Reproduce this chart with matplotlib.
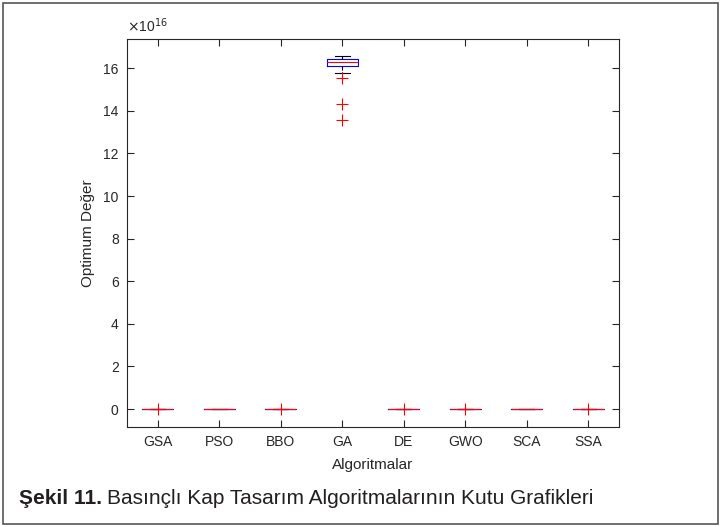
import matplotlib
matplotlib.use("Agg")
import matplotlib.pyplot as plt
from matplotlib import font_manager
from matplotlib.ticker import FuncFormatter, MultipleLocator
from matplotlib.patches import Rectangle

names = {f.name for f in font_manager.fontManager.ttflist}
base_font = "Liberation Sans" if "Liberation Sans" in names else "DejaVu Sans"
cap_font = "Liberation Sans Narrow" if "Liberation Sans Narrow" in names else base_font

algorithms = ["GSA", "PSO", "BBO", "GA", "DE", "GWO", "SCA", "SSA"]
# box statistics (values in units of the objective, ~1e16 for GA)
whislo = [6059.7, 6059.7, 6060.5, 1.577e17, 6059.7, 6060.1, 6200.0, 6059.7]
q1     = [6060.0, 6061.0, 6090.0, 1.612e17, 6059.7, 6062.0, 6400.0, 6060.0]
med    = [6070.0, 6090.0, 6200.0, 1.629e17, 6059.7, 6070.0, 6600.0, 6080.0]
q3     = [6200.0, 6300.0, 6400.0, 1.643e17, 6060.0, 6100.0, 6900.0, 6300.0]
whishi = [6400.0, 6800.0, 6900.0, 1.659e17, 6060.5, 6200.0, 7300.0, 6500.0]
fliers = [[7300.0], [], [7500.0], [1.555e17, 1.432e17, 1.355e17], [6090.0], [6400.0], [], [7000.0]]

plt.rcParams['font.family'] = [base_font, 'DejaVu Sans']
fig = plt.figure(figsize=(7.21, 5.27), dpi=100)
ax = fig.add_axes([127/721, 1-427/527, (619-127)/721, (427-39)/527])

stats = []
for i, name in enumerate(algorithms):
    stats.append(dict(label=name, whislo=whislo[i], q1=q1[i], med=med[i],
                      q3=q3[i], whishi=whishi[i], fliers=fliers[i]))

ax.bxp(stats, positions=range(1, 9), widths=0.5, showfliers=True,
       boxprops=dict(color=(0, 0, 1), linewidth=0.8),
       medianprops=dict(color=(1, 0, 0), linewidth=0.8),
       whiskerprops=dict(color='black', linewidth=0.8, linestyle='--'),
       capprops=dict(color='black', linewidth=0.8),
       flierprops=dict(marker='+', markeredgecolor=(1, 0, 0), markersize=8,
                       markeredgewidth=0.8, linestyle='none'))

ax.set_xlim(0.5, 8.5)
ax.set_ylim(-0.84e16, 17.37e16)
ax.yaxis.set_major_locator(MultipleLocator(2e16))
ax.yaxis.set_major_formatter(FuncFormatter(lambda v, p: f"{v/1e16:g}"))
ax.set_xticks(range(1, 9))
ax.set_xticklabels(algorithms)

gray = (0.15, 0.15, 0.15)
for s in ax.spines.values():
    s.set_color(gray)
    s.set_linewidth(0.8)
ax.tick_params(direction='in', top=True, right=True, length=5, width=0.8,
               colors=gray, labelsize=10, pad=6)
ax.set_xlabel("Algoritmalar", fontsize=11, color=gray, labelpad=6)
ax.set_ylabel("Optimum Değer", fontsize=11, color=gray, labelpad=6)
ax.text(0.0, 1.01, r"$\times$10$^{16}$", transform=ax.transAxes, fontsize=10,
        color=gray, ha='left', va='bottom')

cap_y = 1 - 498/527
t1 = fig.text(19/721, cap_y, "Şekil 11.", fontsize=15, fontweight='bold',
              family=[cap_font, 'DejaVu Sans'], ha='left', va='center', color='#231f20')
fig.canvas.draw()
bb = t1.get_window_extent(renderer=fig.canvas.get_renderer())
x2 = (bb.x1 + 5) / fig.bbox.width
fig.text(x2, cap_y, "Basınçlı Kap Tasarım Algoritmalarının Kutu Grafikleri",
         fontsize=15, family=[cap_font, 'DejaVu Sans'], ha='left', va='center', color='#231f20')

fig.patches.append(Rectangle((3/721, 3/527), 715/721, 521/527, transform=fig.transFigure,
                             fill=False, edgecolor='#555555', linewidth=1.2))

fig.savefig("out.png", dpi=100)
